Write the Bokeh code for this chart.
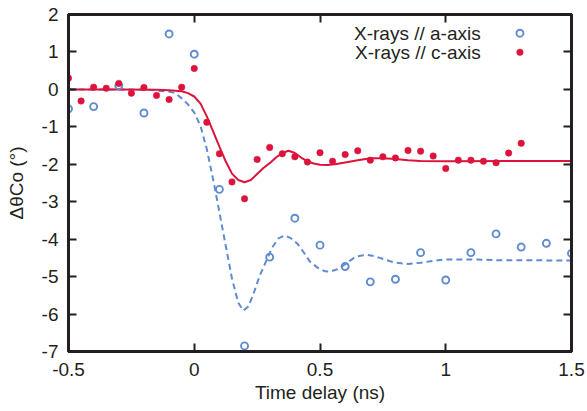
from bokeh.plotting import figure
from bokeh.models import (Range1d, LinearAxis, FixedTicker, Label)
from bokeh.embed import file_html
from bokeh.resources import INLINE

# ---- data ----
a_t = [-0.5, -0.4, -0.3, -0.2, -0.1, 0.0, 0.1, 0.2, 0.3, 0.4, 0.5, 0.6, 0.7,
       0.8, 0.9, 1.0, 1.1, 1.2, 1.3, 1.4, 1.5]
a_y = [-0.52, -0.46, 0.10, -0.63, 1.48, 0.94, -2.67, -6.85, -4.48, -3.44, -4.16,
       -4.73, -5.14, -5.07, -4.36, -5.09, -4.36, -3.86, -4.21, -4.11, -4.38]

c_t = [-0.5, -0.45, -0.4, -0.35, -0.3, -0.25, -0.2, -0.15, -0.1, -0.05, 0.0,
       0.05, 0.1, 0.15, 0.2, 0.25, 0.3, 0.35, 0.4, 0.45, 0.5, 0.55, 0.6, 0.65,
       0.7, 0.75, 0.8, 0.85, 0.9, 0.95, 1.0, 1.05, 1.1, 1.15, 1.2, 1.25, 1.3]
c_y = [0.30, -0.31, 0.06, 0.03, 0.16, -0.10, 0.05, -0.16, -0.27, 0.06, 0.56,
       -0.88, -1.72, -2.47, -2.92, -1.87, -1.55, -1.72, -1.80, -1.94, -1.69,
       -1.92, -1.74, -1.64, -1.89, -1.80, -1.83, -1.63, -1.65, -1.78, -2.11,
       -1.89, -1.89, -1.92, -1.96, -1.70, -1.44]

c_fit_t = [-0.5, -0.3, -0.15, -0.1, -0.05, -0.025, 0.0, 0.025, 0.05, 0.075, 0.1,
           0.125, 0.15, 0.175, 0.2, 0.225, 0.25, 0.275, 0.3, 0.325, 0.35, 0.375,
           0.4, 0.425, 0.45, 0.475, 0.5, 0.53, 0.56, 0.6, 0.65, 0.7, 0.75, 0.8,
           0.85, 0.9, 1.0, 1.5]
c_fit_y = [0.0, 0.0, -0.01, -0.02, -0.05, -0.10, -0.19, -0.38, -0.72, -1.12, -1.53,
           -1.92, -2.25, -2.42, -2.48, -2.42, -2.26, -2.10, -1.97, -1.82, -1.70, -1.64,
           -1.70, -1.82, -1.92, -1.98, -2.01, -2.02, -2.00, -1.95, -1.89, -1.84, -1.84,
           -1.86, -1.89, -1.91, -1.92, -1.91]

a_fit_t = [-0.5, -0.2, -0.1, -0.075, -0.05, -0.025, 0.0, 0.025, 0.05, 0.075, 0.1,
           0.125, 0.15, 0.175, 0.195, 0.215, 0.235, 0.26, 0.285, 0.31, 0.335, 0.36,
           0.385, 0.41, 0.435, 0.46, 0.49, 0.52, 0.54, 0.57, 0.6, 0.635, 0.66, 0.69,
           0.72, 0.76, 0.8, 0.85, 0.9, 0.95, 1.0, 1.1, 1.2, 1.5]
a_fit_y = [0.0, 0.0, -0.06, -0.10, -0.24, -0.40, -0.62, -0.98, -1.60, -2.40, -3.28,
           -4.17, -5.05, -5.70, -5.91, -5.80, -5.47, -4.98, -4.60, -4.22, -3.98, -3.90,
           -3.98, -4.12, -4.35, -4.60, -4.76, -4.86, -4.87, -4.80, -4.67, -4.50, -4.44,
           -4.42, -4.46, -4.55, -4.63, -4.66, -4.63, -4.58, -4.54, -4.54, -4.56, -4.57]

x_ticks = [-0.5, 0, 0.5, 1, 1.5]
x_tick_labels = ["-0.5", "0", "0.5", "1", "1.5"]
y_ticks = [-7, -6, -5, -4, -3, -2, -1, 0, 1, 2]
y_tick_labels = ["-7", "-6", "-5", "-4", "-3", "-2", "-1", "0", "1", "2"]

legend_labels = ["X-rays // a-axis", "X-rays // c-axis"]
# legend key positions (x in ns, y in degrees) for the two series keys
legend_key_x = [1.295, 1.295]
legend_key_y = [1.50, 0.99]

# ---- style ----
RED = "#DC143C"
BLUE = "#5F8BCF"
AXC = "#231F20"
FONT = "Liberation Sans"
FS = "19px"

X0, X1 = x_ticks[0], x_ticks[-1]
Y0, Y1 = y_ticks[0], y_ticks[-1]

p = figure(width=587, height=411, output_backend="svg", toolbar_location=None,
           x_range=Range1d(X0, X1), y_range=Range1d(Y0, Y1),
           min_border_left=68, min_border_right=16, min_border_top=14,
           min_border_bottom=60)
p.grid.visible = False
p.outline_line_color = AXC
p.outline_line_width = 3
p.background_fill_color = "white"
p.border_fill_color = "white"


def style_axis(ax, ticks, labels, show_labels):
    ax.ticker = FixedTicker(ticks=ticks)
    ax.major_label_overrides = {t: l for t, l in zip(ticks, labels)}
    ax.axis_line_color = AXC
    ax.axis_line_width = 3
    ax.major_tick_line_color = AXC
    ax.major_tick_line_width = 2
    ax.major_tick_in = 8
    ax.major_tick_out = 0
    ax.minor_tick_line_color = None
    ax.major_label_text_font = FONT
    ax.major_label_text_font_size = FS
    ax.major_label_text_color = AXC if show_labels else None


xb = p.xaxis[0]
style_axis(xb, x_ticks, x_tick_labels, True)
xb.major_label_standoff = 11
xb.axis_label = "Time delay (ns)"
xb.axis_label_text_font = FONT
xb.axis_label_text_font_size = FS
xb.axis_label_text_font_style = "normal"
xb.axis_label_text_color = AXC
xb.axis_label_standoff = 3

yl = p.yaxis[0]
style_axis(yl, y_ticks, y_tick_labels, True)
yl.major_label_standoff = 10
yl.axis_label = "ΔθCo (°)"
yl.axis_label_text_font = FONT
yl.axis_label_text_font_size = FS
yl.axis_label_text_font_style = "normal"
yl.axis_label_text_color = AXC
yl.axis_label_standoff = 12

xt = LinearAxis()
style_axis(xt, x_ticks, x_tick_labels, False)
xt.major_label_standoff = 0
p.add_layout(xt, "above")

yr = LinearAxis()
style_axis(yr, y_ticks, y_tick_labels, False)
yr.major_label_standoff = 0
p.add_layout(yr, "right")

# fits
p.line(a_fit_t, a_fit_y, line_color=BLUE, line_width=2.0, line_dash="6 4")
p.line(c_fit_t, c_fit_y, line_color=RED, line_width=2.0)

# data
p.scatter(a_t, a_y, marker="circle", size=7, fill_color=None,
          line_color=BLUE, line_width=1.9)
p.scatter(c_t, c_y, marker="circle", size=6.5, fill_color=RED,
          line_color=RED, line_width=0.5)

# legend keys
p.scatter(legend_key_x[:1], legend_key_y[:1], marker="circle", size=7,
          fill_color=None, line_color=BLUE, line_width=1.9)
p.scatter(legend_key_x[1:], legend_key_y[1:], marker="circle", size=6.5,
          fill_color=RED, line_color=RED, line_width=0.5)

for lbl, yv in zip(legend_labels, legend_key_y):
    p.add_layout(Label(x=1.139, y=yv, text=lbl, text_align="right",
                       text_baseline="middle", text_font=FONT,
                       text_font_size=FS, text_color=AXC))

open("out.html", "w").write(file_html(p, INLINE))
